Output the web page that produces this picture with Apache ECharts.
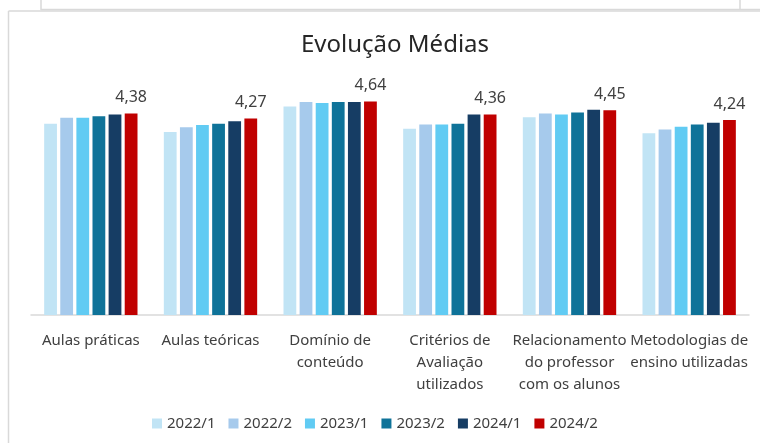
<!DOCTYPE html>
<html>
<head>
<meta charset="utf-8">
<script src="https://cdn.jsdelivr.net/npm/echarts@6/dist/echarts.min.js"></script>
<style>
html, body { margin: 0; padding: 0; background: #fff; }
#chart { width: 760px; height: 443px; }
</style>
</head>
<body>
<div id="chart"></div>
<script>
// categorias e séries
var categorias = ['Aulas práticas', 'Aulas teóricas', 'Domínio de\nconteúdo', 'Critérios de\nAvaliação\nutilizados', 'Relacionamento\ndo professor\ncom os alunos', 'Metodologias de\nensino utilizadas'];
var semestres = ['2022/1', '2022/2', '2023/1', '2023/2', '2024/1', '2024/2'];
var s2022_1 = [4.16, 3.98, 4.53, 4.05, 4.30, 3.95];
var s2022_2 = [4.29, 4.08, 4.63, 4.14, 4.38, 4.03];
var s2023_1 = [4.29, 4.13, 4.61, 4.14, 4.36, 4.09];
var s2023_2 = [4.32, 4.16, 4.63, 4.16, 4.40, 4.14];
var s2024_1 = [4.36, 4.21, 4.63, 4.36, 4.46, 4.18];
var s2024_2 = [4.38, 4.27, 4.64, 4.36, 4.45, 4.24];
var cores = ['#C1E4F5', '#A6CAEC', '#61CBF3', '#0F7399', '#163D64', '#C00000'];

window.onload = function() {
    var dados = [s2022_1, s2022_2, s2023_1, s2023_2, s2024_1, s2024_2];
    var fonte = '"Noto Sans", sans-serif';

    var series = semestres.map(function(nome, i) {
        var s = {
            name: nome,
            type: 'bar',
            data: dados[i],
            barGap: '26%',
            barCategoryGap: '22%',
            itemStyle: { color: cores[i] },
            emphasis: { disabled: true }
        };
        // só o último semestre mostra rótulo
        if (i == semestres.length - 1) {
            s.label = {
                show: true,
                position: 'top',
                distance: 8,
                color: '#404040',
                fontFamily: fonte,
                fontSize: 16,
                formatter: function(p) { return p.value.toFixed(2).replace('.', ','); }
            };
        }
        return s;
    });

    var option = {
        animation: false,
        title: {
            text: 'Evolução Médias',
            left: 296,
            top: 28,
            textStyle: { fontFamily: fonte, fontSize: 24, fontWeight: 'normal', color: '#262626' }
        },
        legend: {
            data: semestres,
            left: 147,
            bottom: 7,
            itemWidth: 10,
            itemHeight: 10,
            itemGap: 13,
            icon: 'rect',
            textStyle: { fontFamily: fonte, fontSize: 15, color: '#404040' }
        },
        grid: { left: 31, right: 11, top: 85, bottom: 128, containLabel: false },
        xAxis: {
            type: 'category',
            data: categorias,
            axisTick: { show: false },
            axisLine: { lineStyle: { color: '#D9D9D9', width: 1.5 } },
            axisLabel: {
                interval: 0,
                margin: 15,
                lineHeight: 22,
                fontFamily: fonte,
                fontSize: 15,
                color: '#404040'
            }
        },
        yAxis: {
            type: 'value',
            min: 0,
            max: 5,
            show: false
        },
        graphic: [
            { type: 'line', shape: { x1: 41, y1: 0, x2: 41, y2: 10 }, style: { stroke: '#D9D9D9', lineWidth: 1.5 } },
            { type: 'line', shape: { x1: 740, y1: 0, x2: 740, y2: 10 }, style: { stroke: '#D9D9D9', lineWidth: 1.5 } },
            { type: 'line', shape: { x1: 41, y1: 9.5, x2: 760, y2: 9.5 }, style: { stroke: '#D9D9D9', lineWidth: 1.5 } },
            { type: 'line', shape: { x1: 8.5, y1: 11, x2: 760, y2: 11 }, style: { stroke: '#D9D9D9', lineWidth: 1.5 } },
            { type: 'line', shape: { x1: 8.5, y1: 11, x2: 8.5, y2: 443 }, style: { stroke: '#D9D9D9', lineWidth: 1.5 } }
        ],
        series: series
    };

    var chart = echarts.init(document.getElementById('chart'));
    chart.setOption(option);
};
</script>
</body>
</html>
